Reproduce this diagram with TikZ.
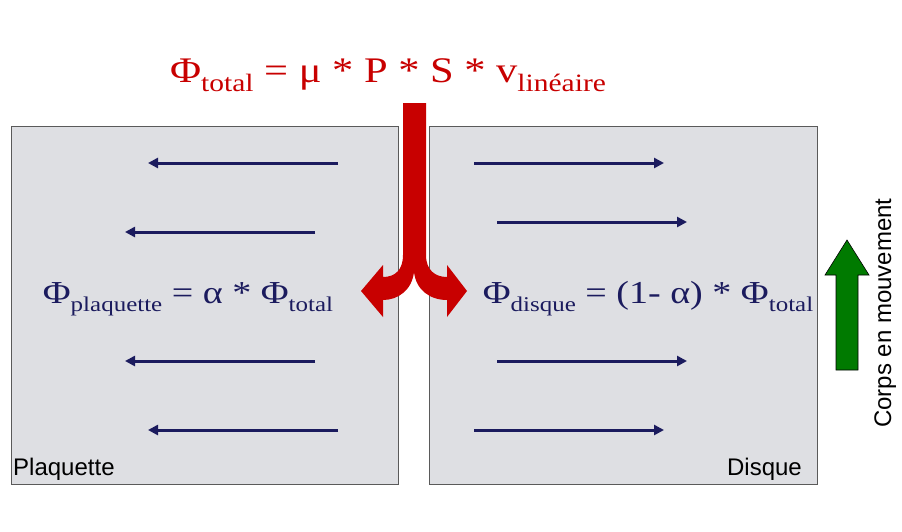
\documentclass[tikz,border=0pt]{standalone}
\usepackage{fontspec}
\setmainfont{Liberation Serif}
\setsansfont{Liberation Sans}
\usetikzlibrary{arrows.meta}
\definecolor{boxfill}{HTML}{DEDFE3}
\definecolor{boxline}{HTML}{5A5A5A}
\definecolor{navy}{HTML}{1B1B5E}
\definecolor{fluxred}{HTML}{C80000}
\definecolor{mvgreen}{HTML}{007A00}
\newcommand\subsz[3]{\raisebox{-#2}{\fontsize{#1}{#1}\selectfont #3}}
\tikzset{
  panel/.style={draw=boxline, line width=1pt, fill=boxfill},
  flow/.style={draw=navy, line width=3pt, -{Triangle[length=10pt,width=10pt]}},
  lbl/.style={font=\sffamily\fontsize{24}{24}\selectfont, inner sep=0pt},
  formula/.style={inner sep=0pt, text=navy, xscale=1.19, font=\fontsize{32}{32}\selectfont},
}
\begin{document}
\begin{tikzpicture}[x=1pt,y=-1pt]
\useasboundingbox (0,0) rectangle (902,531);
% panels
\path[panel] (11,126) rectangle (398,484);
\path[panel] (429,126) rectangle (817,484);
% flow arrows left
\draw[flow] (338,163) -- (148,163);
\draw[flow] (315,232) -- (125,232);
\draw[flow] (315,361) -- (125,361);
\draw[flow] (338,430) -- (148,430);
% flow arrows right
\draw[flow] (474,163) -- (664,163);
\draw[flow] (497,222) -- (687,222);
\draw[flow] (497,361) -- (687,361);
\draw[flow] (474,430) -- (664,430);
% red split arrow
\fill[fluxred] (403,103) -- (426,103) -- (426,255)
  .. controls (426,270) and (435,277) .. (447,277)
  -- (447,265) -- (467,291) -- (447,317) -- (447,300)
  .. controls (430,300) and (416,290) .. (414,272)
  .. controls (412,290) and (398,300) .. (383,300)
  -- (383,317) -- (361,291) -- (383,265) -- (383,277)
  .. controls (395,277) and (403,270) .. (403,255) -- cycle;
% title
\node[anchor=base, inner sep=0pt, text=fluxred, xscale=1.18, font=\fontsize{36}{36}\selectfont] (title) at (388,82)
  {Φ\subsz{25}{9pt}{total} = μ * P * S * v\subsz{25}{9pt}{linéaire}};
% formulas
\node[formula, anchor=base] (fplaq) at (188,303)
  {Φ\subsz{21}{8pt}{plaquette} = α * Φ\subsz{21}{8pt}{total}};
\node[formula, anchor=base] (fdisq) at (648,303)
  {Φ\subsz{21}{8pt}{disque} = (1- α) * Φ\subsz{21}{8pt}{total}};
% labels
\node[lbl, anchor=base west] (plaq) at (13,475) {Plaquette};
\node[lbl, anchor=base east] (disq) at (802,475) {Disque};
% green arrow
\draw[fill=mvgreen, draw=black, line width=0.6pt] (836,370) -- (836,275) -- (825,275) -- (847,240) -- (869,275) -- (858,275) -- (858,370) -- cycle;
\node[lbl, rotate=90, anchor=base] (corps) at (891,313) {Corps en mouvement};
\end{tikzpicture}
\end{document}
